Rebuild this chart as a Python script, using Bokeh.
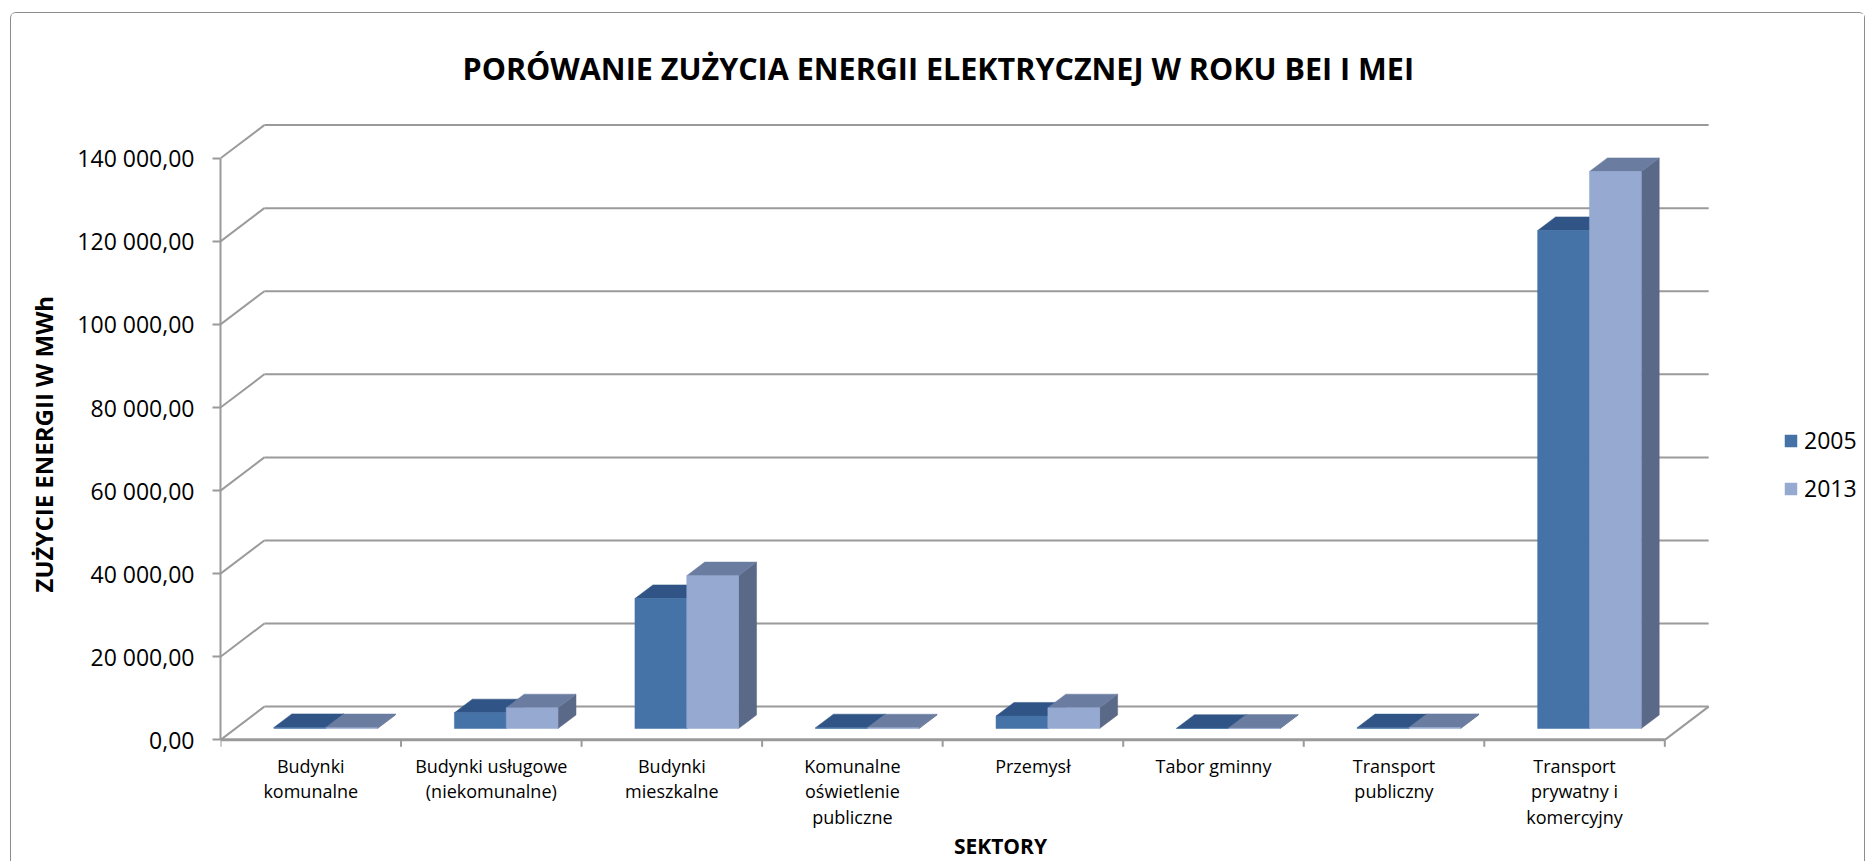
import numpy as np
from bokeh.plotting import figure
from bokeh.models import Range1d, FixedTicker, Legend, LegendItem, Title
from bokeh.core.properties import value
from bokeh.embed import file_html
from bokeh.resources import INLINE

# ---------------- data ----------------
categories = [
    "Budynki\nkomunalne",
    "Budynki usługowe\n(niekomunalne)",
    "Budynki\nmieszkalne",
    "Komunalne\noświetlenie\npubliczne",
    "Przemysł",
    "Tabor gminny",
    "Transport\npubliczny",
    "Transport\nprywatny i\nkomercyjny",
]
series_names = ["2005", "2013"]
values_2005 = [250, 3800, 31300, 180, 3000, 60, 200, 119900]
values_2013 = [220, 5000, 36800, 170, 5000, 80, 250, 134100]
y_ticks = [0, 20000, 40000, 60000, 80000, 100000, 120000, 140000]
y_tick_labels = ["0,00", "20 000,00", "40 000,00", "60 000,00", "80 000,00",
                 "100 000,00", "120 000,00", "140 000,00"]
title_text = "PORÓWANIE ZUŻYCIA ENERGII ELEKTRYCZNEJ W ROKU BEI I MEI"
y_title = "ZUŻYCIE ENERGII W MWh"
x_title = "SEKTORY"

# ---------------- style / geometry ----------------
N = len(categories)
FIG_W, FIG_H = 1855, 849
B_LEFT, B_RIGHT, B_TOP = 203, 4, 107
PX_PER_CAT = 181.2
PX_PER_VAL = 83.3 / 20000.0
PXV = 1.0 / PX_PER_VAL                 # value units per screen pixel
DX = 44.0 / PX_PER_CAT                 # depth shift in category units
DY = 33.3 * PXV                        # depth shift in value units
D0, D1 = 0.34, 0.75                    # bar depth (front, back) as fraction of the depth
BAR_OFF, BAR_W = 0.213, 0.287
X_END = (FIG_W - B_LEFT - B_RIGHT) / PX_PER_CAT
Y_END = 148620
Y_MIN = Y_END - (FIG_H - B_TOP) * PXV   # room below the floor for the category texts
GRID = "#9a9a9a"
front_cols = ["#4572A7", "#95A9D1"]
top_cols = ["#2F5485", "#6A7CA0"]
side_cols = ["#2B4A78", "#5A6987"]
FONT = "Open Sans"

p = figure(width=FIG_W, height=FIG_H, x_range=Range1d(0, X_END), y_range=Range1d(Y_MIN, Y_END),
           output_backend="svg", toolbar_location=None, x_axis_location=None,
           min_border_left=B_LEFT, min_border_right=B_RIGHT,
           min_border_top=B_TOP, min_border_bottom=0)
p.styles = {"border": "1px solid #8c8c8c", "border-bottom": "none",
            "border-radius": "6px 6px 0 0", "margin-left": "10px", "margin-top": "12px"}
p.outline_line_color = None
p.xgrid.visible = False
p.ygrid.visible = False
p.background_fill_color = "white"
p.border_fill_color = "white"

# walls / gridlines
yt_arr = np.array(y_ticks, dtype=float)
nt = len(y_ticks)
p.segment(x0=np.full(nt, DX), y0=yt_arr + DY, x1=np.full(nt, N + DX), y1=yt_arr + DY,
          line_color=GRID, line_width=2)
p.segment(x0=np.zeros(nt), y0=yt_arr, x1=np.full(nt, DX), y1=yt_arr + DY,
          line_color=GRID, line_width=2)
p.segment(x0=[N], y0=[0], x1=[N + DX], y1=[DY], line_color=GRID, line_width=2)

# category axis (floor front edge + boundary ticks)
bounds = np.arange(N + 1, dtype=float)
p.segment(x0=[0], y0=[0], x1=[N], y1=[0], line_color=GRID, line_width=3)
p.segment(x0=bounds, y0=np.zeros(N + 1), x1=bounds, y1=np.full(N + 1, -7 * PXV),
          line_color=GRID, line_width=2)

# bars
ddx = (D1 - D0) * DX
ddy = (D1 - D0) * DY
front_renderers = []
for s, vals in enumerate([values_2005, values_2013]):
    v = np.array(vals, dtype=float)
    idx = np.arange(N)
    x0 = idx + D0 * DX + BAR_OFF + s * BAR_W
    x1 = x0 + BAR_W
    yb = np.full(N, D0 * DY)
    yt = yb + v
    side_xs = [[a, a + ddx, a + ddx, a] for a in x1]
    side_ys = [[b, b + ddy, t + ddy, t] for b, t in zip(yb, yt)]
    top_xs = [[a, b, b + ddx, a + ddx] for a, b in zip(x0, x1)]
    top_ys = [[t, t, t + ddy, t + ddy] for t in yt]
    p.patches(side_xs, side_ys, fill_color=side_cols[s], line_color=side_cols[s], line_width=0.5)
    p.patches(top_xs, top_ys, fill_color=top_cols[s], line_color=top_cols[s], line_width=0.5)
    r = p.quad(left=x0, right=x1, bottom=yb, top=yt, fill_color=front_cols[s],
               line_color=front_cols[s], line_width=0.5)
    front_renderers.append(r)

# category labels (front plane, centred on each category)
p.text(x=np.arange(N) + 0.5, y=np.full(N, -14 * PXV), text=categories,
       text_font=value(FONT), text_font_size="18px", text_align="center",
       text_baseline="top", text_line_height=1.06, text_color="black")
# x-axis title
p.text(x=[4.32], y=[-106 * PXV], text=[x_title], text_font=value(FONT),
       text_font_size="21px", text_font_style="bold", text_align="center",
       text_baseline="middle", text_color="black")

# y axis
ya = p.yaxis[0]
ya.ticker = FixedTicker(ticks=y_ticks, minor_ticks=[])
ya.major_label_overrides = {t: l for t, l in zip(y_ticks, y_tick_labels)}
ya.bounds = (0, y_ticks[-1])
ya.axis_line_color = GRID
ya.axis_line_width = 2
ya.major_tick_line_color = GRID
ya.major_tick_line_width = 2
ya.major_tick_out = 8
ya.major_tick_in = 0
ya.minor_tick_line_color = None
ya.major_label_standoff = 18
ya.major_label_text_font = FONT
ya.major_label_text_font_size = "23px"
ya.major_label_text_color = "black"

# y-axis title (rotated, left of the tick labels)
y_title_obj = Title(text=y_title, align="left", offset=270, standoff=28,
                    text_font=FONT, text_font_style="bold", text_font_size="24px",
                    text_color="black", vertical_align="middle")
p.add_layout(y_title_obj, "left")

# title
p.title.text = title_text
p.title.text_font = FONT
p.title.text_font_size = "30.5px"
p.title.text_font_style = "bold"
p.title.text_color = "black"
p.title.align = "left"
p.title.offset = 242
p.title.standoff = 65
p.title.vertical_align = "middle"

# legend (inside the widened frame, right of the chart walls)
legend = Legend(items=[LegendItem(label=n, renderers=[r]) for n, r in zip(series_names, front_renderers)],
                location=(1563, 358), orientation="vertical", glyph_width=15, glyph_height=15,
                label_text_font=FONT, label_text_font_size="23px", label_text_color="black",
                label_standoff=6, spacing=16, label_height=30, padding=0, margin=0,
                border_line_color=None, background_fill_alpha=0)
p.add_layout(legend)

open("out.html", "w").write(file_html(p, INLINE))
